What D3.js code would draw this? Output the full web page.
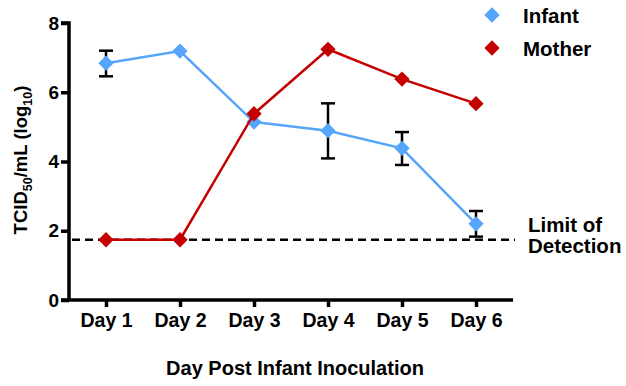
<!DOCTYPE html>
<html>
<head>
<meta charset="utf-8">
<script src="https://cdn.jsdelivr.net/npm/d3@7"></script>
<style>
  body { margin: 0; background: #fff; }
  text { font-family: "Liberation Sans", Arial, sans-serif; font-weight: bold; fill: #000; }
  .axis path, .axis line { stroke: #000; stroke-width: 3.5px; }
</style>
</head>
<body>
<svg id="chart" width="626" height="386"></svg>
<script>
const days = ['Day 1', 'Day 2', 'Day 3', 'Day 4', 'Day 5', 'Day 6']
const infant = [6.84, 7.19, 5.14, 4.89, 4.38, 2.2]
const infantErrHi = [7.2, null, null, 5.68, 4.85, 2.57]
const infantErrLo = [6.46, null, null, 4.09, 3.9, 1.83]
const mother = [1.74, 1.74, 5.38, 7.24, 6.38, 5.67]
const limitOfDetection = 1.74
const yTicks = [0, 2, 4, 6, 8]

const svg = d3.select('#chart')
const margin = { top: 23, left: 69, right: 513, bottom: 300 }

// x scale
const xscale = d3.scalePoint()
  .domain(days)
  .range([margin.left, margin.right])
  .padding(0.5)
// y scale
const yscale = d3.scaleLinear()
  .domain([0, 8])
  .range([margin.bottom, margin.top])

// limit of detection line
svg.append('line')
  .attr('x1', margin.left + 3).attr('x2', margin.right + 2)
  .attr('y1', yscale(limitOfDetection)).attr('y2', yscale(limitOfDetection))
  .attr('stroke', '#000').attr('stroke-width', 2.5)
  .attr('stroke-dasharray', '8,5')

// axes
const leftAxis = d3.axisLeft(yscale).tickValues(yTicks).tickSize(8).tickPadding(2)
const yAxisG = svg.append('g')
  .attr('class', 'axis')
  .attr('transform', `translate(${margin.left}, 0)`)
  .call(leftAxis)
const bottomAxis = d3.axisBottom(xscale).tickSize(7).tickPadding(6).tickSizeOuter(0)
const xAxisG = svg.append('g')
  .attr('class', 'axis')
  .attr('transform', `translate(0, ${margin.bottom})`)
  .call(bottomAxis)
xAxisG.select('.domain').attr('d', `M${margin.left - 8},0H${margin.right}`)
yAxisG.select('.domain').attr('d', `M0,${margin.bottom}V${margin.top}H-8`)
;[yAxisG, xAxisG].forEach(g => {
  g.selectAll('text').style('font-family', '"Liberation Sans", Arial, sans-serif').style('font-weight', 'bold')
})
yAxisG.selectAll('text').style('font-size', '19px')
xAxisG.selectAll('text').style('font-size', '19.5px')

const line = d3.line()
  .x((d, i) => xscale(days[i]))
  .y(d => yscale(d))
const diamond = d3.symbol().type(d3.symbolDiamond2).size(150)

// error bars
const errGroup = svg.append('g')
days.forEach((day, i) => {
  if (infantErrHi[i] == null) return
  const x = xscale(day)
  errGroup.append('line')
    .attr('x1', x).attr('x2', x)
    .attr('y1', yscale(infantErrHi[i])).attr('y2', yscale(infantErrLo[i]))
    .attr('stroke', '#000').attr('stroke-width', 2.5)
  ;[infantErrHi[i], infantErrLo[i]].forEach(v => {
    errGroup.append('line')
      .attr('x1', x - 7).attr('x2', x + 7)
      .attr('y1', yscale(v)).attr('y2', yscale(v))
      .attr('stroke', '#000').attr('stroke-width', 2.5)
  })
})

const series = [
  { name: 'Infant', values: infant, color: '#55a5fb' },
  { name: 'Mother', values: mother, color: '#c40000' }
]
series.forEach(s => {
  svg.append('path')
    .datum(s.values)
    .attr('d', line)
    .attr('fill', 'none')
    .attr('stroke', s.color)
    .attr('stroke-width', 2.5)
  svg.append('g')
    .selectAll('path')
    .data(s.values)
    .enter()
    .append('path')
    .attr('transform', (d, i) => `translate(${xscale(days[i])}, ${yscale(d)})`)
    .attr('d', diamond)
    .attr('fill', s.color)
})

// legend
series.forEach((s, i) => {
  const y = 15 + i * 33
  svg.append('path')
    .attr('transform', `translate(492, ${y})`)
    .attr('d', diamond)
    .attr('fill', s.color)
  svg.append('text')
    .attr('x', 523).attr('y', y + 8)
    .style('font-size', '20.5px')
    .text(s.name)
})

// limit of detection label
svg.append('text').attr('x', 528).attr('y', 232).style('font-size', '20.5px').text('Limit of')
svg.append('text').attr('x', 528).attr('y', 253).style('font-size', '20.5px').text('Detection')

// axis titles
svg.append('text')
  .attr('x', 295).attr('y', 375)
  .attr('text-anchor', 'middle')
  .style('font-size', '20px')
  .text('Day Post Infant Inoculation')

const yTitle = svg.append('text')
  .attr('transform', 'translate(27, 160) rotate(-90)')
  .attr('text-anchor', 'middle')
  .style('font-size', '18.5px')
yTitle.append('tspan').text('TCID')
yTitle.append('tspan').attr('dy', 5).style('font-size', '12.5px').text('50')
yTitle.append('tspan').attr('dy', -5).text('/mL (log')
yTitle.append('tspan').attr('dy', 5).style('font-size', '12.5px').text('10')
yTitle.append('tspan').attr('dy', -5).text(')')
</script>
</body>
</html>
